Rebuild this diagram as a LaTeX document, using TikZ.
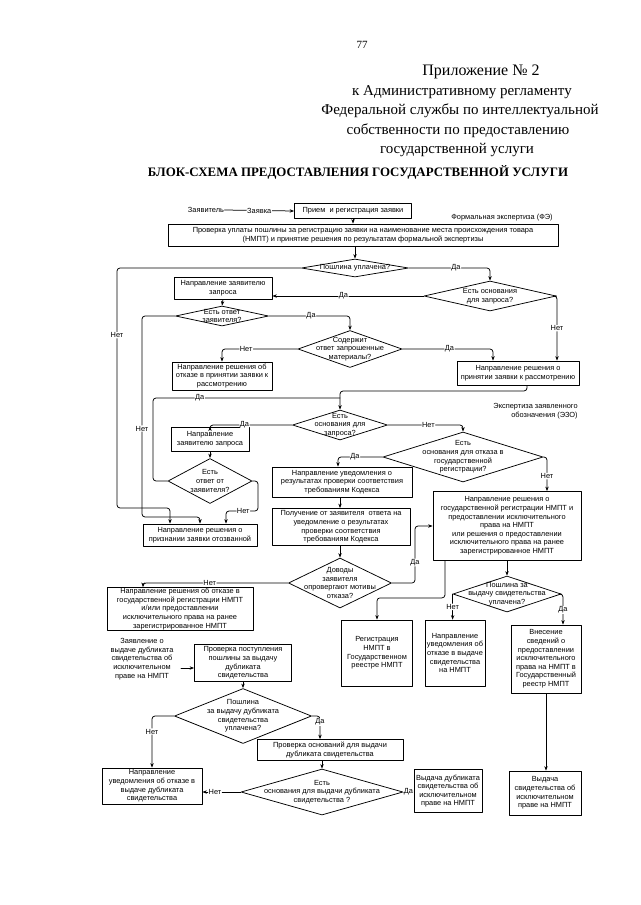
\documentclass[tikz,border=0pt]{standalone}
\usepackage{fontspec}
\setmainfont{Liberation Serif}
\newfontfamily\arialf{Liberation Sans}
\newcommand\boxfont{\arialf\fontsize{7.4}{8.6}\selectfont}
\usetikzlibrary{arrows.meta,shapes.geometric}

\begin{document}
\begin{tikzpicture}[line width=0.75pt, line cap=round, line join=round, x=1pt, y=-1pt,
    wire/.style={rounded corners=3pt},
    arr/.style={wire, -{Stealth[length=4.5pt,width=3.4pt]}},
    box/.style={draw, fill=white, align=center, inner sep=1pt, font=\boxfont},
    dec/.style={draw, diamond, inner sep=0pt},
    dtxt/.style={align=center, inner sep=0pt, font=\boxfont},
    lbl/.style={fill=white, inner sep=0.6pt, font=\boxfont},
    hdr/.style={font=\fontsize{15}{19}\selectfont}]
  \useasboundingbox (0,0) rectangle (640,905);

  % Page head.
  \node[font=\fontsize{11}{13}\selectfont] (pgno) at (362,45) {77};
  \node[hdr, font=\fontsize{16}{19}\selectfont] (hd1) at (481,72) {Приложение № 2};
  \node[hdr] (hd2) at (462,92) {к Административному регламенту};
  \node[hdr] (hd3) at (460,111) {Федеральной службы по интеллектуальной};
  \node[hdr] (hd4) at (458,131) {собственности по предоставлению};
  \node[hdr] (hd5) at (457,150) {государственной услуги};
  \node[font=\bfseries\fontsize{12.9}{15}\selectfont] (title) at (358,172)
    {БЛОК-СХЕМА ПРЕДОСТАВЛЕНИЯ ГОСУДАРСТВЕННОЙ УСЛУГИ};

  % Formal examination (FE).
  \node[dtxt] (app) at (206,210) {Заявитель};
  \node[box, minimum width=117, minimum height=15] (a) at (353,211) {Прием~ и регистрация заявки};
  \node[dtxt] (fe) at (502,218) {Формальная экспертиза (ФЭ)};
  \node[box, minimum width=390, minimum height=22] (b) at (363,235)
    {Проверка уплаты пошлины за регистрацию заявки на наименование места происхождения товара\\(НМПТ) и принятие решения по результатам формальной экспертизы};
  \node[dec, minimum width=107, minimum height=18, label={[dtxt]center:{Пошлина уплачена?}}] (d1) at (355,268) {};
  \node[dec, minimum width=132, minimum height=30, label={[dtxt]center:{Есть основания\\для запроса?}}] (d2) at (490,296) {};
  \node[box, minimum width=98, minimum height=22] (c) at (223,288) {Направление заявителю\\запроса};
  \node[dec, minimum width=93, minimum height=20, label={[dtxt]center:{Есть ответ\\заявителя?}}] (d3) at (222,316) {};
  \node[dec, minimum width=104, minimum height=37, label={[dtxt]center:{Содержит\\ответ запрошенные\\материалы?}}] (d4) at (350,349) {};
  \node[box, minimum width=100, minimum height=28] (f) at (222,376)
    {Направление решения об\\отказе в принятии заявки к\\рассмотрению};
  \node[box, minimum width=122, minimum height=24] (e) at (518,373)
    {Направление решения о\\принятии заявки к рассмотрению};

  % Examination of the claimed designation.
  \node[dtxt, align=right, anchor=north east] (ezo) at (578,403) {Экспертиза заявленного\\обозначения (ЭЗО)};
  \node[dec, minimum width=95, minimum height=30, label={[dtxt]center:{Есть\\основания для\\запроса?}}] (d5) at (340,425) {};
  \node[box, minimum width=78, minimum height=24] (g) at (210,439) {Направление\\заявителю запроса};
  \node[dec, minimum width=84, minimum height=45, label={[dtxt]center:{Есть\\ответ от\\заявителя?}}] (d6) at (210,481) {};
  \node[box, minimum width=114, minimum height=22] (r) at (200,535)
    {Направление решения о\\признании заявки отозванной};
  \node[dec, minimum width=160, minimum height=50, label={[dtxt]center:{Есть\\основания для отказа в\\государственной\\регистрации?}}] (d7) at (463,457) {};
  \node[box, minimum width=140, minimum height=30] (h) at (342,482)
    {Направление уведомления о\\результатах проверки соответствия\\требованиям Кодекса};
  \node[box, minimum width=138, minimum height=37] (j) at (341,527)
    {Получение от заявителя~ ответа на\\уведомление о результатах\\проверки соответствия\\требованиям Кодекса};
  \node[box, minimum width=148, minimum height=69] (i) at (507,526)
    {Направление решения о\\государственной регистрации НМПТ и\\предоставлении исключительного\\права на НМПТ\\или решения о предоставлении\\исключительного права на ранее\\зарегистрированное НМПТ};
  \node[dec, minimum width=103, minimum height=50, label={[dtxt]center:{Доводы\\заявителя\\опровергают мотивы\\отказа?}}] (d8) at (340,583) {};
  \node[box, minimum width=146, minimum height=43] (k) at (180,609)
    {Направление решения об отказе в\\государственной регистрации НМПТ\\и/или предоставлении\\исключительного права на ранее\\зарегистрированное НМПТ};
  \node[dec, minimum width=108, minimum height=36, label={[dtxt]center:{Пошлина за\\выдачу свидетельства\\уплачена?}}] (d9) at (507,594) {};
  \node[box, minimum width=71, minimum height=66] (l) at (377,653) {Регистрация\\НМПТ в\\Государственном\\реестре НМПТ};
  \node[box, minimum width=60, minimum height=66] (m) at (455,653)
    {Направление\\уведомления об\\отказе в выдаче\\свидетельства\\на НМПТ};
  \node[box, minimum width=70, minimum height=68] (n) at (546,659)
    {Внесение\\сведений о\\предоставлении\\исключительного\\права на НМПТ в\\Государственный\\реестр НМПТ};

  % Duplicate of the certificate.
  \node[dtxt] (dup) at (142,659) {Заявление о\\выдаче дубликата\\свидетельства об\\исключительном\\праве на НМПТ};
  \coordinate (dupin) at (181,668);
  \node[box, minimum width=97, minimum height=37] (q) at (243,663)
    {Проверка поступления\\пошлины за выдачу\\дубликата\\свидетельства};
  \node[dec, minimum width=137, minimum height=55, label={[dtxt]center:{Пошлина\\за выдачу дубликата\\свидетельства\\уплачена?}}] (d10) at (243,716) {};
  \node[box, minimum width=100, minimum height=36] (s) at (152,786)
    {Направление\\уведомления об отказе в\\выдаче дубликата\\свидетельства};
  \node[box, minimum width=146, minimum height=21] (t) at (330,750)
    {Проверка оснований для выдачи\\дубликата свидетельства};
  \node[dec, minimum width=162, minimum height=46, label={[dtxt]center:{Есть\\основания для выдачи дубликата\\свидетельства ?}}] (d11) at (322,792) {};
  \node[box, minimum width=68, minimum height=43] (u) at (448,791)
    {Выдача дубликата\\свидетельства об\\исключительном\\праве на НМПТ};
  \node[box, minimum width=72, minimum height=44] (p) at (545,793)
    {Выдача\\свидетельства об\\исключительном\\праве на НМПТ};

  % Connectors of the FE part.
  \draw[arr] (app.east) -- node[lbl]{Заявка} (a.west);
  \draw[arr] (a.south) -- (a.south |- b.north);
  \draw[arr] (d1.north |- b.south) -- (d1.north);
  \draw[arr] (d1.east) -| node[lbl, pos=0.29]{Да} (d2.north);
  \draw[arr] (d1.west) -| node[lbl, pos=0.64]{Нет} (117,508) -| ([xshift=-30pt]r.north);
  \draw[arr] (d2.west) -- node[lbl, pos=0.53]{Да} (d2.west -| c.east);
  \draw[arr] (d2.east) -| node[lbl, pos=0.75]{Нет} ([xshift=39pt]e.north);
  \draw[arr] (c.south) -- (d3.north);
  \draw[arr] (d3.east) -| node[lbl, pos=0.26]{Да} (d4.north);
  \draw[arr] (d3.west) -| node[lbl, pos=0.78]{Нет} (142,517) -| (r.north);
  \draw[arr] (d4.west) -| node[lbl, pos=0.34]{Нет} (f.north);
  \draw[arr] (d4.east) -| node[lbl, pos=0.26]{Да} ([xshift=-25pt]e.north);

  % Connectors of the EZO part.
  \draw[arr] ([xshift=9pt]e.south) |- (340,391) -- (d5.north);
  \draw[arr] (d5.west) -| node[lbl, pos=0.29]{Да} (g.north);
  \draw[arr] (g.south) -- (d6.north);
  \draw[wire] (d6.west) -| (153,398) -- node[lbl, pos=0.25]{Да} (340,398);
  \draw[arr] (d6.east) -| (258,511) -| node[lbl, pos=0.23]{Нет} ([xshift=26pt]r.north);
  \draw[arr] (d5.east) -| node[lbl, pos=0.27]{Нет} (d7.north);
  \draw[arr] (d7.west) -| node[lbl, pos=0.31]{Да} ([xshift=-4pt]h.north);
  \draw[arr] (d7.east) -| node[lbl, pos=0.78]{Нет} ([xshift=40pt]i.north);
  \draw[arr] ([xshift=-2pt]h.south) -- ([xshift=-2pt]h.south |- j.north);
  \draw[arr] (d8.north |- j.south) -- (d8.north);
  \draw[arr] (d8.west) -| node[lbl, pos=0.27]{Нет} ([xshift=-37pt]k.north);
  \draw[arr] (d8.east) -| node[lbl, pos=0.68]{Да} (415,526) -- (i.west);
  \draw[arr] ([xshift=-62pt]i.south) -- ++(0,37) -| (l.north);
  \draw[arr] (i.south) -- (d9.north);
  \draw[arr] (d9.west) -- node[lbl]{Нет} (d9.west |- m.north);
  \draw[arr] (d9.east) -| node[lbl, pos=0.76]{Да} ([xshift=17pt]n.north);
  \draw[arr] (n.south) -- (n.south |- p.north);

  % Connectors of the duplicate part.
  \draw[arr] (dupin) -- (dupin -| q.west);
  \draw[arr] (q.south) -- (d10.north);
  \draw[arr] (d10.west) -| node[lbl, pos=0.65]{Нет} (s.north);
  \draw[arr] (d10.east) -| node[lbl, pos=0.63]{Да} ([xshift=-10pt]t.north);
  \draw[arr] (d11.north |- t.south) -- (d11.north);
  \draw[arr] (d11.west) -- node[lbl, pos=0.67]{Нет} (d11.west -| s.east);
  \draw[arr] (d11.east) -- node[lbl]{Да} (d11.east -| u.west);
\end{tikzpicture}
\end{document}
